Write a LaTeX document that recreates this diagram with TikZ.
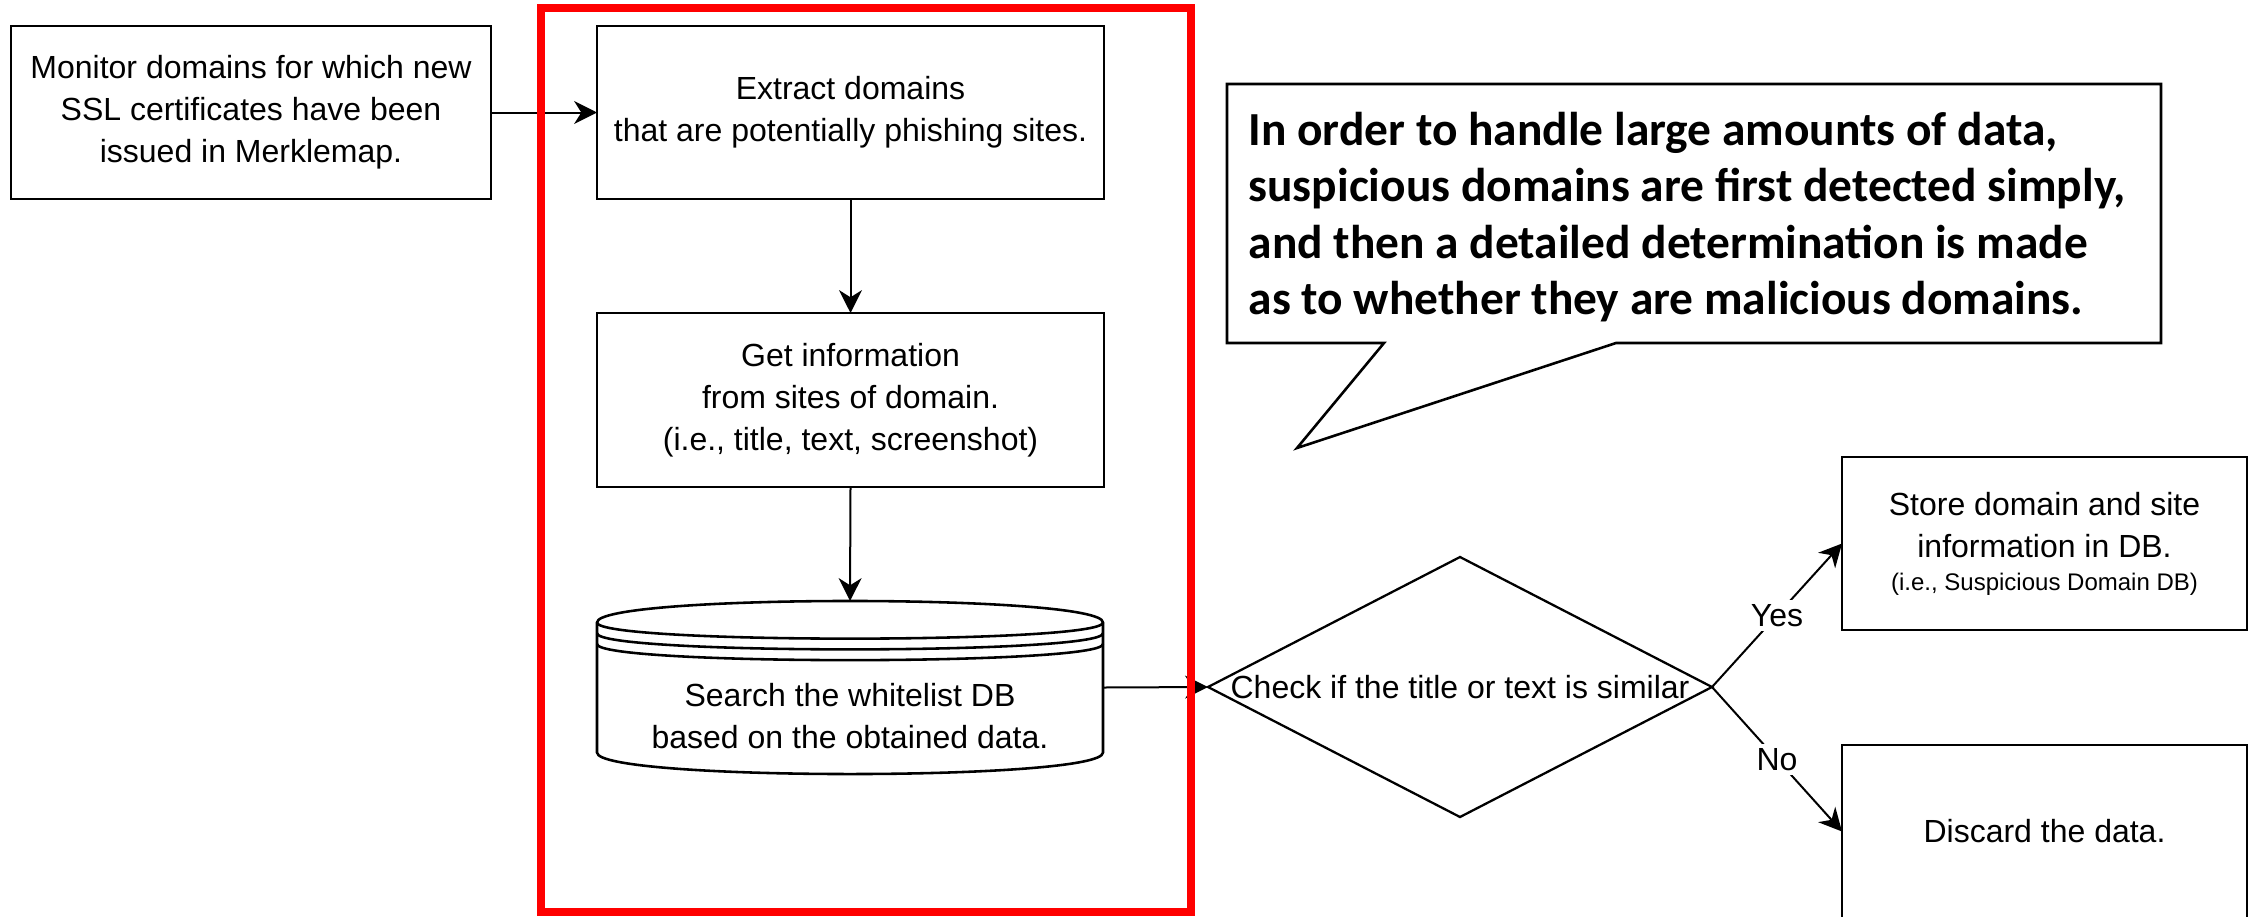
\documentclass[tikz,border=0pt]{standalone}
\usepackage{fontspec}
\setmainfont{Liberation Sans}
\newfontfamily\calibfont{Carlito}
\usetikzlibrary{shapes.geometric,arrows.meta}
\tikzset{
  mainfont/.style={font=\fontsize{11.2pt}{14.7pt}\selectfont},
  procbox/.style={draw=black, line width=1pt, fill=white, rectangle, inner sep=0pt, outer sep=0pt, align=center, mainfont},
  conn/.style={draw=black, line width=0.7pt, -{Stealth[length=8pt, width=8pt, inset=2.5pt]}},
  edgelabel/.style={fill=white, inner sep=1.5pt, mainfont},
  framebox/.style={draw=red, line width=2.6pt, rectangle, inner sep=0pt, outer sep=0pt},
  notebox/.style={draw=black, line width=0.9pt, fill=white, line join=miter},
}
\begin{document}
\begin{tikzpicture}[x=0.35pt, y=-0.35pt]
\clip (0,0) rectangle (2250,916);
\fill[white] (0,0) rectangle (2250,916);

% nodes
\node[procbox, minimum width=168pt, minimum height=60.55pt] (monitor) at (251,112.5)
  {Monitor domains for which new\\SSL certificates have been\\issued in Merklemap.};
\node[procbox, minimum width=177.45pt, minimum height=60.55pt] (extract) at (850.5,112.5)
  {Extract domains\\that are potentially phishing sites.};
\node[procbox, minimum width=177.45pt, minimum height=60.9pt] (getinfo) at (850.5,400)
  {Get information\\from sites of domain.\\(i.e., title, text, screenshot)};

% datastore shape
\fill[white] (597,622.5) .. controls (597,593.8) and (1103,593.8) .. (1103,622.5) -- (1103,752.5)
  .. controls (1103,781.2) and (597,781.2) .. (597,752.5) -- cycle;
\draw[line width=0.9pt] (597,622.5) .. controls (597,593.8) and (1103,593.8) .. (1103,622.5) -- (1103,752.5)
  .. controls (1103,781.2) and (597,781.2) .. (597,752.5) -- cycle;
\draw[line width=0.9pt] (597,622.5) .. controls (597,644) and (1103,644) .. (1103,622.5);
\draw[line width=0.9pt] (597,633.25) .. controls (597,654.75) and (1103,654.75) .. (1103,633.25);
\draw[line width=0.9pt] (597,644) .. controls (597,665.5) and (1103,665.5) .. (1103,644);
\node[rectangle, inner sep=0pt, outer sep=0pt, minimum width=177.1pt, minimum height=60.55pt] (db) at (850,687.5) {};
\node[align=center, inner sep=0pt, mainfont] (dbtext) at (850,716)
  {Search the whitelist DB\\based on the obtained data.};

\node[diamond, draw=black, line width=0.8pt, fill=white, inner sep=0pt, outer sep=0pt,
  minimum width=176.4pt, minimum height=91pt,
  label={[mainfont, inner sep=0pt]center:Check if the title or text is similar}] (check) at (1460,687) {};

\node[procbox, minimum width=141.75pt, minimum height=60.55pt] (store) at (2044.5,543.5)
  {Store domain and site\\information in DB.\\[-3.2pt]{\fontsize{8.4pt}{10pt}\selectfont (i.e., Suspicious Domain DB)}};
\node[procbox, minimum width=141.75pt, minimum height=60.55pt] (discard) at (2044.5,831.5)
  {Discard the data.};

% connectors
\draw[conn] (monitor.east) -- (extract.west);
\draw[conn] (extract.south) -- (getinfo.north);
\draw[conn] (getinfo.south) -- (db.north);
\draw[conn] (db.east) -- (check.west);
\draw[conn] (check.east) -- node[edgelabel] {Yes} (store.west);
\draw[conn] (check.east) -- node[edgelabel] {No} (discard.west);

% red frame
\node[framebox, minimum width=227.5pt, minimum height=316.4pt] (frame) at (866,460) {};

% callout
\draw[notebox] (1227,84) -- (2161,84) -- (2161,343) -- (1616,343) -- (1297,448) -- (1384,343) -- (1227,343) -- cycle;
\node[anchor=west, align=left, inner sep=0pt, font=\calibfont\bfseries\fontsize{16.6pt}{19.8pt}\selectfont] (note) at (1248,217)
  {In order to handle large amounts of data,\\suspicious domains are first detected simply,\\and then a detailed determination is made\\as to whether they are malicious domains.};
\end{tikzpicture}
\end{document}
